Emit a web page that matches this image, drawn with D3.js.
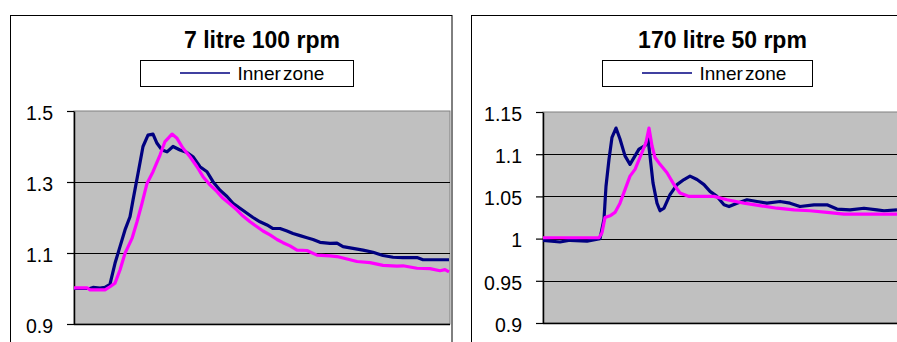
<!DOCTYPE html>
<html>
<head>
<meta charset="utf-8">
<script src="https://cdn.jsdelivr.net/npm/d3@7"></script>
<style>
  html, body { margin: 0; padding: 0; background: #fff; }
  svg { display: block; }
  text { font-family: "Liberation Sans", Arial, sans-serif; }
</style>
</head>
<body>
<svg id="chart" width="897" height="342"></svg>
<script>
// ---------- DATA ----------
const titles = ["7 litre 100 rpm", "170 litre 50 rpm"];
const legendLabel = "Inner zone";

// Left panel (7 litre 100 rpm)
const leftTicks = [0.9, 1.1, 1.3, 1.5];
const leftInnerT = [0,16,19,26,31,36,41,46,51,56,59,64,69,74,79,83,88,93,99,106,113,119,126,133,139,146,153,159,166,173,179,186,193,199,206,213,219,226,233,239,246,256,263,269,279,289,299,309,319,329,343,349,375];
const leftInnerV = [1.0,1.0,1.003,1.001,1.003,1.012,1.071,1.118,1.165,1.202,1.249,1.324,1.40,1.432,1.435,1.409,1.39,1.385,1.40,1.39,1.383,1.371,1.343,1.329,1.301,1.277,1.259,1.24,1.226,1.212,1.2,1.188,1.179,1.169,1.169,1.162,1.155,1.149,1.143,1.138,1.13,1.127,1.128,1.118,1.113,1.108,1.102,1.093,1.088,1.087,1.087,1.081,1.081];
const leftOtherT = [0,13,16,31,36,41,46,51,58,63,68,73,79,86,91,98,103,109,116,123,129,136,143,149,156,163,169,176,183,189,196,203,209,216,223,233,243,256,263,273,283,296,309,323,329,343,356,366,371,375];
const leftOtherV = [1.002,1.002,0.996,0.996,1.005,1.015,1.052,1.099,1.141,1.188,1.24,1.296,1.329,1.376,1.414,1.435,1.423,1.395,1.371,1.343,1.315,1.292,1.273,1.254,1.238,1.221,1.204,1.188,1.174,1.162,1.151,1.138,1.129,1.12,1.108,1.107,1.094,1.092,1.09,1.083,1.076,1.073,1.065,1.063,1.064,1.057,1.056,1.05,1.053,1.047];

// Right panel (170 litre 50 rpm)
const rightTicks = [0.9, 0.95, 1, 1.05, 1.1, 1.15];
const rightTickLabels = ["0.9", "0.95", "1", "1.05", "1.1", "1.15"];
const rightInnerT = [0,17,27,44,57,61,63,66,69,73,77,82,87,92,96,99,102,105,107,110,114,117,121,127,134,141,147,154,161,167,174,181,186,194,204,214,224,237,247,257,271,284,294,307,321,334,341,354];
const rightInnerV = [0.998,0.996,0.998,0.997,1.0,1.023,1.062,1.094,1.12,1.131,1.118,1.098,1.088,1.098,1.106,1.108,1.11,1.118,1.098,1.066,1.042,1.033,1.036,1.052,1.064,1.07,1.074,1.07,1.064,1.056,1.05,1.04,1.038,1.042,1.046,1.044,1.042,1.044,1.042,1.038,1.04,1.04,1.035,1.034,1.036,1.034,1.033,1.034];
const rightOtherT = [0,56,59,62,67,72,77,82,87,92,99,103,106,109,112,117,124,131,137,146,157,171,184,201,217,234,251,267,284,301,317,334,354];
const rightOtherV = [1.001,1.001,1.007,1.025,1.027,1.031,1.042,1.058,1.074,1.082,1.102,1.114,1.131,1.11,1.096,1.088,1.078,1.064,1.054,1.05,1.05,1.05,1.046,1.042,1.039,1.036,1.034,1.033,1.031,1.029,1.029,1.029,1.029];

const colors = { inner: "#000080", other: "#FF00FF", plot: "#C0C0C0" };

// ---------- DRAW ----------
const svg = d3.select("#chart");

function zip(t, v) { return t.map((d, i) => [d, v[i]]); }

const panels = [
  {
    title: titles[0], border: [10.5, 15.5, 441.5, 400],
    plot: { x0: 74, x1: 450, y0: 111, y1: 324 }, xDomain: [0, 376], xRange: [74, 450],
    yDomain: [0.9, 1.5], ticks: leftTicks, tickLabels: leftTicks.map(String),
    legend: { x: 140.5, y: 60.5, w: 213, h: 26 },
    series: [ { data: zip(leftInnerT, leftInnerV), color: colors.inner },
              { data: zip(leftOtherT, leftOtherV), color: colors.other } ]
  },
  {
    title: titles[1], border: [471.5, 15.5, 500, 400],
    plot: { x0: 543, x1: 902, y0: 112, y1: 323 }, xDomain: [0, 354], xRange: [543, 897],
    yDomain: [0.9, 1.15], ticks: rightTicks, tickLabels: rightTickLabels,
    legend: { x: 602.5, y: 60.5, w: 210, h: 26 },
    series: [ { data: zip(rightInnerT, rightInnerV), color: colors.inner },
              { data: zip(rightOtherT, rightOtherV), color: colors.other } ]
  }
];

panels.forEach(p => {
  const g = svg.append("g");
  g.append("rect")
    .attr("x", p.border[0]).attr("y", p.border[1])
    .attr("width", p.border[2]).attr("height", p.border[3])
    .attr("fill", "#fff").attr("stroke", "#000").attr("stroke-width", 1);

  const x = d3.scaleLinear().domain(p.xDomain).range(p.xRange);
  const y = d3.scaleLinear().domain(p.yDomain).range([p.plot.y1, p.plot.y0]);

  g.append("rect")
    .attr("x", p.plot.x0).attr("y", p.plot.y0)
    .attr("width", p.plot.x1 - p.plot.x0).attr("height", p.plot.y1 - p.plot.y0)
    .attr("fill", colors.plot).attr("stroke", "#808080").attr("stroke-width", 1);

  g.append("g").selectAll("line")
    .data(p.ticks.filter(t => t !== p.yDomain[0] && t !== p.yDomain[1]))
    .join("line")
    .attr("x1", p.plot.x0).attr("x2", p.plot.x1)
    .attr("y1", d => Math.round(y(d)) + 0.5).attr("y2", d => Math.round(y(d)) + 0.5)
    .attr("stroke", "#000").attr("stroke-width", 1);

  g.append("line")
    .attr("x1", p.plot.x0).attr("x2", p.plot.x1)
    .attr("y1", p.plot.y1 + 0.5).attr("y2", p.plot.y1 + 0.5)
    .attr("stroke", "#000").attr("stroke-width", 1.5);

  const yAxis = d3.axisLeft(y)
    .tickValues(p.ticks)
    .tickFormat((d, i) => p.tickLabels[i])
    .tickSize(7).tickSizeOuter(0).tickPadding(14);
  const ag = g.append("g").attr("transform", `translate(${p.plot.x0},0)`).call(yAxis);
  ag.select(".domain").attr("stroke", "#000").attr("stroke-width", 1.5);
  ag.selectAll(".tick line").attr("stroke", "#000").attr("stroke-width", 1.2);
  ag.selectAll(".tick text")
    .attr("font-family", '"Liberation Sans", Arial, sans-serif')
    .attr("font-size", 19.5).attr("fill", "#000").attr("dy", "0.42em");

  const line = d3.line().x(d => x(d[0])).y(d => y(d[1]));
  const clipId = "clip" + p.plot.x0;
  g.append("clipPath").attr("id", clipId).append("rect")
    .attr("x", p.plot.x0).attr("y", p.plot.y0 - 3)
    .attr("width", p.plot.x1 - p.plot.x0).attr("height", p.plot.y1 - p.plot.y0 + 3);
  const sg = g.append("g").attr("clip-path", `url(#${clipId})`);
  p.series.forEach(s => {
    sg.append("path").datum(s.data)
      .attr("d", line).attr("fill", "none")
      .attr("stroke", s.color).attr("stroke-width", 3.2)
      .attr("stroke-linejoin", "round").attr("stroke-linecap", "butt");
  });

  g.append("text")
    .attr("x", (p.plot.x0 + p.plot.x1) / 2).attr("y", 48)
    .attr("text-anchor", "middle")
    .attr("font-size", 23).attr("font-weight", "bold").attr("fill", "#000")
    .text(p.title);

  const L = p.legend;
  g.append("rect").attr("x", L.x).attr("y", L.y).attr("width", L.w).attr("height", L.h)
    .attr("fill", "#fff").attr("stroke", "#000").attr("stroke-width", 1);
  g.append("line")
    .attr("x1", L.x + 39.5).attr("x2", L.x + 89.5)
    .attr("y1", L.y + 12.5).attr("y2", L.y + 12.5)
    .attr("stroke", colors.inner).attr("stroke-width", 1.5);
  g.append("text")
    .attr("x", L.x + 97).attr("y", L.y + 19.5)
    .attr("font-size", 19).attr("fill", "#000").attr("word-spacing", -3)
    .text(legendLabel);
});
</script>
</body>
</html>
